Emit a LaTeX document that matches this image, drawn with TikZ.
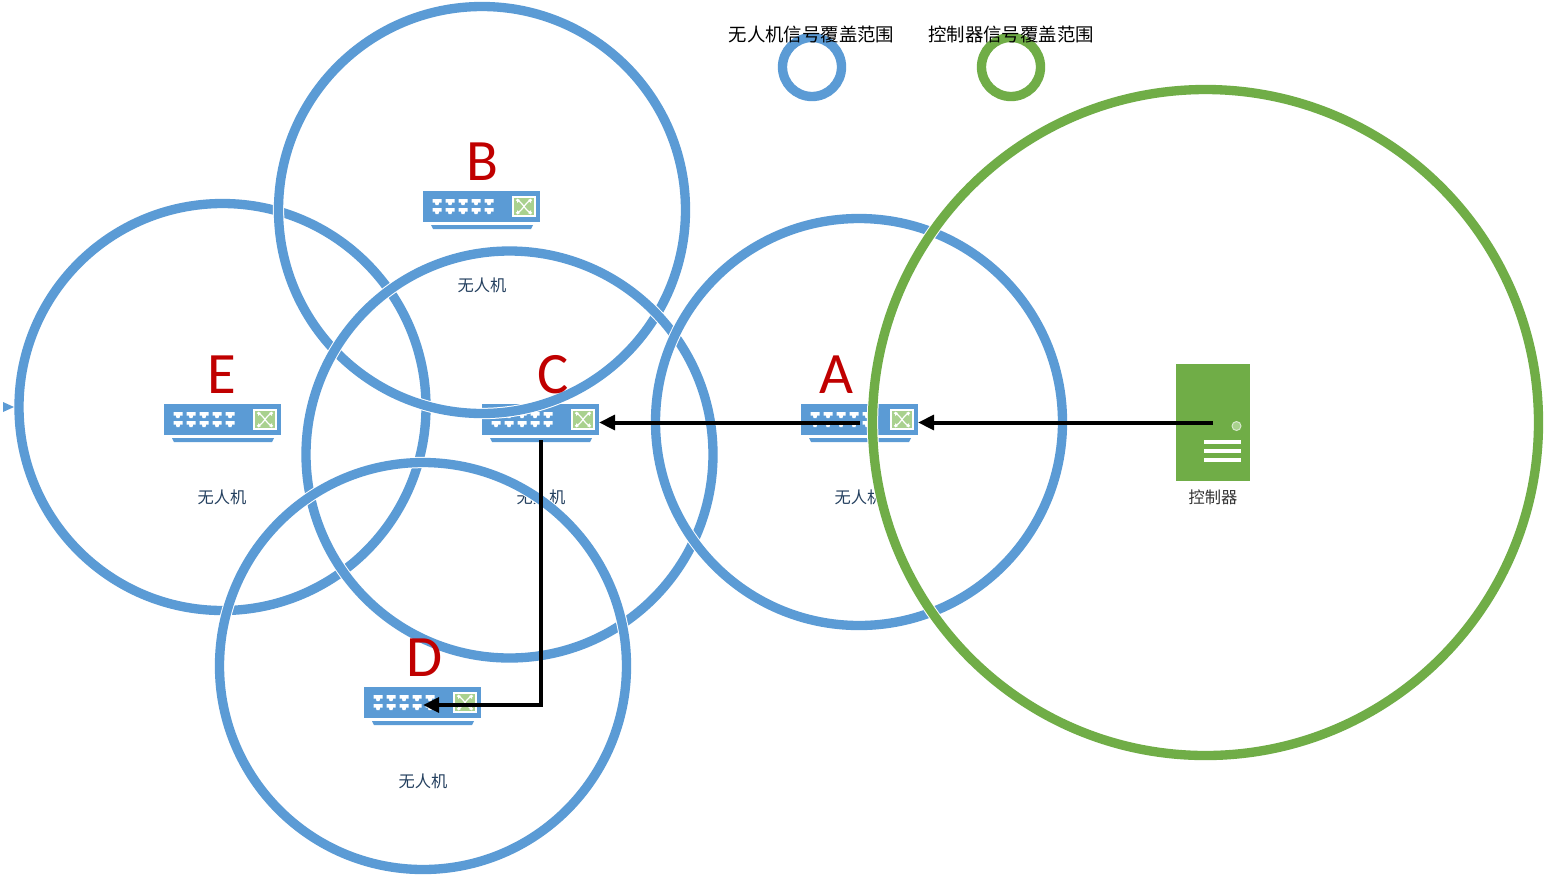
\documentclass[tikz,border=0pt]{standalone}
\usepackage{fontspec}
\setmainfont{Noto Sans CJK SC}
\newfontfamily\latinfont{Carlito}
\usetikzlibrary{arrows.meta,calc}
\definecolor{uavblue}{HTML}{5B9BD5}
\definecolor{ctrlgreen}{HTML}{70AD47}
\definecolor{lightgreen}{HTML}{A9D18E}
\definecolor{letterred}{HTML}{C00000}
\definecolor{labelblue}{HTML}{24405F}
\tikzset{
  switchbody/.style={fill=uavblue,draw=none,minimum width=87.75pt,minimum height=23.25pt,inner sep=0pt,outer sep=0pt},
  uavlabel/.style={font=\fontsize{12.2}{12}\selectfont,text=labelblue,inner sep=0pt},
  ctrllabel/.style={font=\fontsize{12.2}{12}\selectfont,text=black!80,inner sep=0pt},
  legendtext/.style={font=\fontsize{13.8}{15}\selectfont,text=black,inner sep=0pt},
  letter/.style={font=\latinfont\fontsize{44}{44}\selectfont,text=letterred,inner sep=0pt},
  halo/.style={draw=white,line width=8.5pt},
  uavring/.style={draw=uavblue,line width=7pt},
  ctrlring/.style={draw=ctrlgreen,line width=7pt},
  flow/.style={draw=black,line width=3pt,-{Triangle[length=12pt,width=11pt]}},
}
% #1 name, #2 left, #3 top
\newcommand{\drawswitch}[3]{%
  \begin{scope}[shift={(#2,#3)}]
    \node[switchbody] (#1) at (58.5,15.5) {};
    \fill[uavblue] (8,34) -- (110,34) -- (108,38) -- (10,38) -- cycle;
    \foreach \px in {14,27,40,53,66} \foreach \py in {11,20} {
      \fill[white] ({\px-4.5},{\py-3}) -- ({\px+4.5},{\py-3}) -- ({\px+4.5},{\py+0.5}) -- ({\px+2},{\py+0.5}) -- ({\px+1.5},{\py+3}) -- ({\px-1.5},{\py+3}) -- ({\px-2},{\py+0.5}) -- ({\px-4.5},{\py+0.5}) -- cycle;
    }
    \fill[lightgreen,draw=white,line width=1pt] (90,6) rectangle (112,25);
    \draw[white,line width=0.9pt] (93,9) .. controls (100,10) and (102,21) .. (109,22);
    \draw[white,line width=0.9pt] (93,22) .. controls (100,21) and (102,10) .. (109,9);
    \fill[white] (94,7.5) -- (94,12) -- (97,9) -- cycle;
    \fill[white] (94,23.5) -- (94,19) -- (97,22) -- cycle;
    \fill[white] (108,7.5) -- (108,12) -- (105,9) -- cycle;
    \fill[white] (108,23.5) -- (108,19) -- (105,22) -- cycle;
  \end{scope}%
}
\newcommand{\uavcircle}[2]{%
  \path[halo] (#1,#2) circle[radius=203.5];
  \path[uavring] (#1,#2) circle[radius=203.5];%
}
\begin{document}
\begin{tikzpicture}[x=0.75pt,y=-0.75pt]
\useasboundingbox (0,0) rectangle (1545,876);
\fill[white] (0,0) rectangle (1545,876);

% switches
\drawswitch{swB}{423}{191}
\drawswitch{swE}{164}{404}
\drawswitch{swC}{482}{404}
\drawswitch{swA}{801}{404}
\drawswitch{swD}{364}{687}

% server
\node[fill=ctrlgreen,minimum width=55.5pt,minimum height=87.75pt,inner sep=0pt,outer sep=0pt] (ctrl) at (1213,422.5) {};
\fill[lightgreen,draw=white!75!ctrlgreen,line width=0.7pt] (1236.5,426) circle[radius=4.5];
\foreach \ly in {442,451,460} \draw[white,line width=2.3pt] (1204,\ly) -- (1241,\ly);

% labels
\node[uavlabel] (tB) at (482,285) {无人机};
\node[uavlabel] (tE) at (222,497) {无人机};
\node[uavlabel] (tC) at (541,497) {无人机};
\node[uavlabel] (tA) at (859,497) {无人机};
\node[uavlabel] (tD) at (423,781) {无人机};
\node[ctrllabel] (tCtrl) at (1213,497) {控制器};

% coverage circles
\uavcircle{222.5}{407}
\uavcircle{482}{210}
\uavcircle{509.5}{454.5}
\uavcircle{859}{422}
\uavcircle{423}{666}
\path[halo] (1205.5,422.5) circle[radius=333];
\path[ctrlring] (1205.5,422.5) circle[radius=333];

% letters
\node[letter] (lA) at (836,375) {A};
\node[letter] (lB) at (482,162) {B};
\node[letter] (lC) at (553,375) {C};
\node[letter] (lD) at (425,658) {D};
\node[letter] (lE) at (222,375) {E};

% legend
\path[uavring] (812,67) circle[radius=29.5];
\path[ctrlring] (1011,67) circle[radius=29.5];
\node[legendtext] (legU) at (811.5,35) {无人机信号覆盖范围};
\node[legendtext] (legC) at (1011,35) {控制器信号覆盖范围};

% small marker at left edge
\fill[uavblue] (3,402) -- (14,407) -- (3,412) -- cycle;

% connectors
\coordinate (dIn) at (423,705);
\draw[flow] (ctrl.center) -- (ctrl.center -| swA.east);
\draw[flow] (swA.center |- ctrl.center) -- (swC.east |- ctrl.center);
\draw[flow,shorten <=3.75pt] (swC.south) |- (dIn);
\end{tikzpicture}
\end{document}
